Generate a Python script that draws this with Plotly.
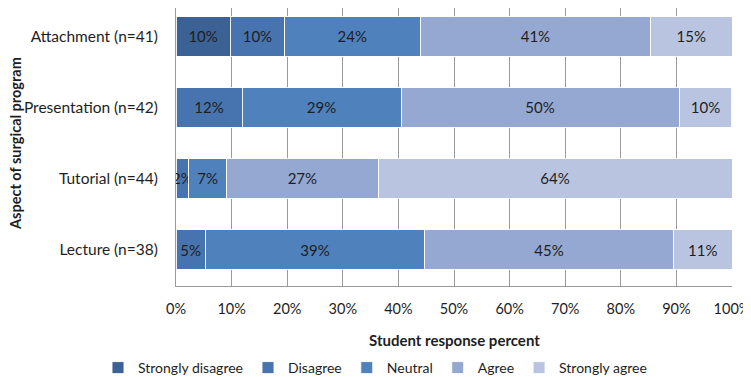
import plotly.graph_objects as go

categories = ["Lecture (n=38)", "Tutorial (n=44)", "Presentation (n=42)", "Attachment (n=41)"]
series_names = ["Strongly disagree", "Disagree", "Neutral", "Agree", "Strongly agree"]

strongly_disagree = [None, None, None, 9.76]
disagree = [5.26, 2.27, 11.90, 9.76]
neutral = [39.47, 6.82, 28.57, 24.39]
agree = [44.74, 27.27, 50.00, 41.46]
strongly_agree = [10.53, 63.64, 9.52, 14.63]

x_ticks = [0, 10, 20, 30, 40, 50, 60, 70, 80, 90, 100]
x_tick_labels = ["0%", "10%", "20%", "30%", "40%", "50%", "60%", "70%", "80%", "90%", "100%"]

colors = ["#3b6195", "#4774ae", "#4f81bd", "#94a8d1", "#b9c5e0"]
FONT = "Lato, Open Sans, sans-serif"
TXT = "#1e1e1e"

fig = go.Figure()
for name, vals, col in zip(series_names,
                           [strongly_disagree, disagree, neutral, agree, strongly_agree],
                           colors):
    labels = ["" if v is None else f"{int(v + 0.5)}%" for v in vals]
    fig.add_trace(go.Bar(
        y=categories, x=vals, name=name, orientation="h",
        marker=dict(color=col, line=dict(color="rgba(255,255,255,0.9)", width=1)),
        text=labels, textposition="inside", insidetextanchor="middle",
        textangle=0, constraintext="none",
        insidetextfont=dict(family=FONT, size=15, color=TXT),
        hoverinfo="x+y+name",
    ))

# page body adds an 8px offset; figure is sized to fit the window
W, H = 743, 369
L, R, T, B = 168, 19, 0, 91
pw, ph = W - L - R, H - T - B

fig.update_layout(
    barmode="stack",
    bargap=0.45,
    width=W, height=H,
    margin=dict(l=L, r=R, t=T, b=B, autoexpand=False),
    paper_bgcolor="white", plot_bgcolor="white",
    font=dict(family=FONT, size=15, color=TXT),
    legend=dict(orientation="h", x=(367 - L) / pw, xanchor="center",
                y=(ph - 360) / ph, yanchor="middle",
                font=dict(family=FONT, size=14, color=TXT),
                itemwidth=30, traceorder="normal"),
    xaxis=dict(range=[0, 100], tickvals=x_ticks, ticktext=x_tick_labels,
               showgrid=True, gridcolor="#9a9a9a", gridwidth=1,
               showline=True, linecolor="#9a9a9a", zeroline=False,
               ticks="", ticklabelstandoff=10, automargin=False,
               ticklabeloverflow="allow",
               tickfont=dict(family=FONT, size=14.5, color=TXT),
               fixedrange=True),
    yaxis=dict(categoryorder="array", categoryarray=categories,
               range=[-0.514, 3.401],
               showgrid=False, showline=True, linecolor="#9a9a9a",
               ticks="", ticklabelstandoff=14, automargin=False,
               ticklabeloverflow="allow",
               tickfont=dict(family=FONT, size=15.5, color=TXT),
               fixedrange=True),
    annotations=[
        dict(text="<b>Student response percent</b>", xref="paper", yref="paper",
             x=0.5, y=(ph - 332) / ph, xanchor="center", yanchor="middle",
             showarrow=False, font=dict(family=FONT, size=15, color=TXT)),
        dict(text="<b>Aspect of surgical program</b>", xref="paper", yref="paper",
             x=(7 - L) / pw, y=(ph - 136) / ph, xanchor="center", yanchor="middle",
             textangle=-90, showarrow=False,
             font=dict(family=FONT, size=14.5, color=TXT)),
    ],
)

fig.write_html("out.html")
